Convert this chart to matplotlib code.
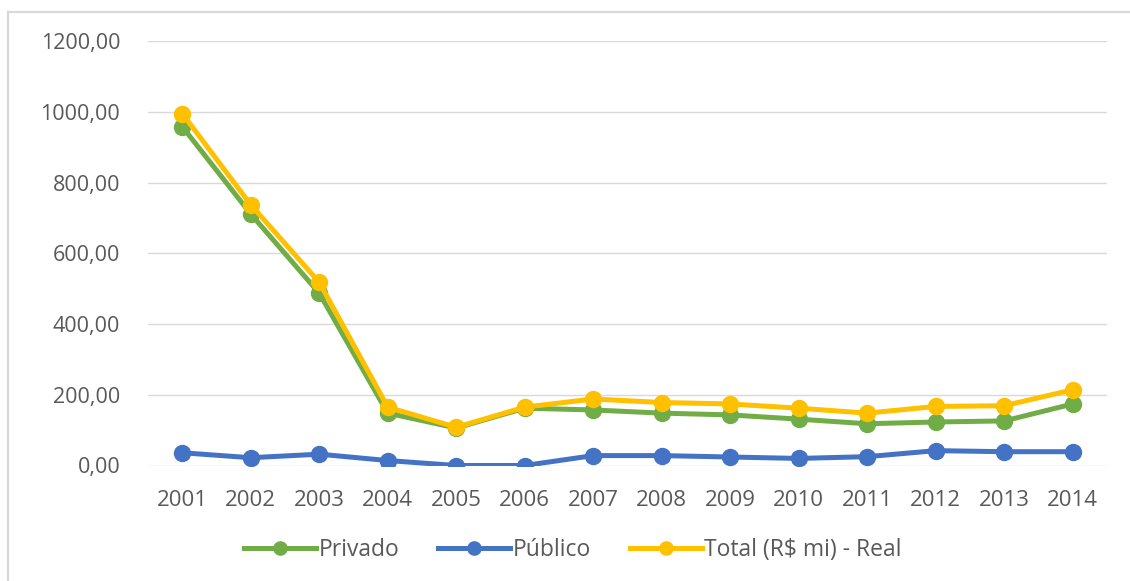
import matplotlib
matplotlib.use("Agg")
import matplotlib.pyplot as plt
from matplotlib.lines import Line2D
from matplotlib.ticker import FuncFormatter

years = ["2001", "2002", "2003", "2004", "2005", "2006", "2007",
         "2008", "2009", "2010", "2011", "2012", "2013", "2014"]
privado = [958, 711, 487, 148, 106, 162, 157, 148, 143, 131, 118, 123, 126, 174]
publico = [36, 22, 32, 14, 0, 0, 28, 28, 24, 20, 25, 42, 39, 39]
total = [995, 737, 518, 165, 108, 165, 188, 178, 174, 162, 148, 167, 169, 214]
series_names = ["Privado", "Público", "Total (R$ mi) - Real"]
y_ticks = [0, 200, 400, 600, 800, 1000, 1200]

colors = ["#70AD47", "#4472C4", "#FFC000"]
text_color = "#595959"
grid_color = "#D9D9D9"

plt.rcParams["font.family"] = ["Open Sans", "DejaVu Sans"]
fs = 15.5

W, H = 1130, 581
fig = plt.figure(figsize=(W / 100, H / 100), dpi=100)
ax = fig.add_axes([148 / W, 1 - 465.5 / H, (1107 - 148) / W, (465.5 - 41) / H])

x = list(range(len(years)))
for vals, name, c in zip([privado, publico, total], series_names, colors):
    ax.plot(x, vals, color=c, lw=3.6, marker="o", markersize=11.5,
            solid_capstyle="round", label=name, zorder=3)

ax.set_xlim(-0.5, len(years) - 0.5)
ax.set_ylim(0, 1200)
ax.set_yticks(y_ticks)
ax.yaxis.set_major_formatter(FuncFormatter(lambda v, p: f"{v:.2f}".replace(".", ",")))
ax.set_xticks(x)
ax.set_xticklabels(years)
ax.grid(axis="y", color=grid_color, lw=1.0)
ax.set_axisbelow(True)
for s in ax.spines.values():
    s.set_visible(False)
ax.tick_params(axis="both", length=0, labelsize=fs, colors=text_color)
ax.tick_params(axis="y", pad=20)
ax.tick_params(axis="x", pad=18, labelsize=16)

handles = [Line2D([0], [0], color=c, lw=3.6, marker="o", markersize=9.5)
           for c in colors]
fig.legend(handles, series_names, loc="center", bbox_to_anchor=(573 / W, 1 - 550 / H),
           ncol=3, frameon=False, fontsize=16.5, labelcolor=text_color,
           handlelength=3.15, handletextpad=0.1, columnspacing=1.7)

# outer frame (top and left edges)
fig.add_artist(Line2D([8 / W, 1.0], [1 - 12 / H, 1 - 12 / H], color=grid_color, lw=1.6,
                      transform=fig.transFigure))
fig.add_artist(Line2D([8 / W, 8 / W], [1 - 12 / H, 0.0], color=grid_color, lw=1.6,
                      transform=fig.transFigure))

fig.savefig("out.png", dpi=100, facecolor="white")
